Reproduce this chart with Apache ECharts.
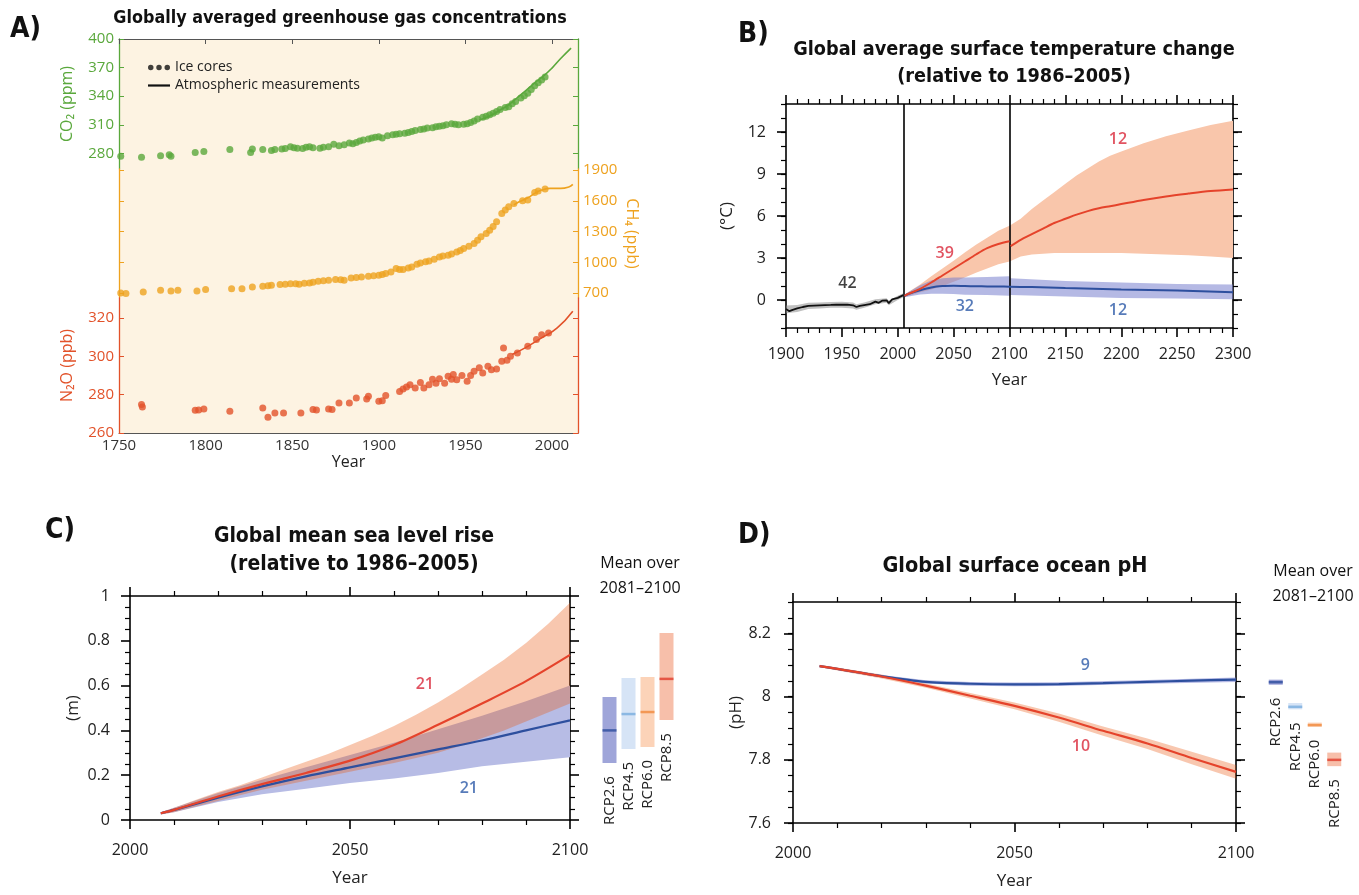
<!DOCTYPE html>
<html><head><meta charset="utf-8">
<script src="https://cdn.jsdelivr.net/npm/echarts@6/dist/echarts.min.js"></script>
<style>html,body{margin:0;padding:0;background:#fff}#c{width:1359px;height:895px}</style>
</head><body><div id="c"></div><script>
// ---------------- DATA ----------------
// Panel A: greenhouse gases [year, value]
const co2Ice = [[1751,277],[1763,276],[1774,277.5],[1779,278.5],[1780,277],[1794,281],[1799,282],[1814,284],[1826,281],[1827,284.5],[1833,284],[1838,283],[1840,284],[1844,284.5],[1846,285],[1849,287],[1851,286],[1853,285.5],[1856,285],[1858,286.5],[1860,287],[1862,286],[1866,285.5],[1868,286.5],[1871,287],[1874,289.5],[1877,288],[1880,289],[1883,291],[1885,290],[1887,291.5],[1889,293],[1891,294],[1894,295],[1896,296],[1898,297],[1900,297.5],[1902,296],[1905,298.5],[1908,299.5],[1910,300],[1912,300.5],[1915,301],[1917,302],[1919,303],[1921,304],[1924,305],[1926,305.5],[1928,306.5],[1931,307],[1933,308],[1935,308.5],[1937,309],[1939,310],[1942,311],[1944,310.5],[1946,310],[1949,310.5],[1951,311],[1953,312.5],[1955,314],[1957,316],[1960,318],[1962,319],[1964,320.5],[1966,322],[1968,324],[1970,326],[1973,328],[1975,329],[1977,332],[1979,334.5],[1982,338],[1984,340.5],[1986,343],[1988,347],[1990,351],[1992,354],[1994,357],[1996,360]];
const co2Atm = [[1958,315],[1965,320],[1970,325.5],[1975,331],[1980,338.5],[1985,346],[1990,354],[1995,361],[2000,369.5],[2005,379.5],[2011,390.5]];
const ch4Ice = [[1751,700],[1754,694],[1764,710],[1774,726],[1780,720],[1784,726],[1795,720],[1800,733],[1815,742],[1821,742],[1827,759],[1833,765],[1836,770],[1838,775],[1843,782],[1846,785],[1849,791],[1852,790],[1854,785],[1857,795],[1860,798],[1862,805],[1865,814],[1868,820],[1871,824],[1875,831],[1878,830],[1880,824],[1884,847],[1887,850],[1890,857],[1894,863],[1897,868],[1900,873],[1902,880],[1904,889],[1907,905],[1910,938],[1912,930],[1914,928],[1917,945],[1919,954],[1922,980],[1924,993],[1927,1005],[1929,1013],[1932,1030],[1935,1052],[1937,1060],[1940,1068],[1942,1080],[1945,1101],[1947,1115],[1949,1134],[1952,1155],[1955,1183],[1957,1215],[1959,1248],[1962,1280],[1964,1313],[1966,1350],[1968,1395],[1971,1476],[1973,1510],[1975,1541],[1978,1574],[1983,1600],[1986,1607],[1990,1680],[1992,1695],[1996,1715]];
const ch4Atm = [[1978,1560],[1981,1590],[1986,1629],[1990,1672],[1994,1704],[1999,1721],[2005,1721],[2010,1737],[2012,1760]];
const n2oIce = [[1763,274.8],[1763.5,273.6],[1794,271.8],[1796,272],[1799,272.5],[1814,271.3],[1833,273],[1836,268.2],[1840,270.4],[1845,270.4],[1855,270.4],[1862,272.2],[1864,272],[1871,272.5],[1873,272.3],[1877,275.7],[1883,275.7],[1887,278.3],[1893,277.7],[1894,279.1],[1900,276.5],[1902,276.8],[1904,279.5],[1912,281.7],[1914,283],[1916,284],[1918,285.2],[1921,283.5],[1924,286.4],[1926,283.5],[1929,285.2],[1931,288],[1933,286],[1935,288.3],[1938,286],[1940,289.6],[1942,288],[1943,290.5],[1945,287.8],[1948,290],[1951,287],[1953,290],[1955,292.2],[1958,294],[1960,291.3],[1963,294.8],[1965,293],[1968,293.4],[1971,297.4],[1972,304.3],[1974,298],[1976,300],[1980,301.7],[1986,305.2],[1991,308.7],[1994,311.3],[1998,312.2]];
const n2oAtm = [[1977,300.9],[1986,305.2],[1994,309.6],[2003,314.8],[2012,323.5]];
const yearTicksA = [1750,1800,1850,1900,1950,2000];
const co2Ticks = [280,310,340,370,400];
const ch4Ticks = [700,1000,1300,1600,1900];
const n2oTicks = [260,280,300,320];

// Panel B: temperature [year, value] and bands [year, low, high]
const histT = [[1900,-0.65],[1903,-0.8],[1906,-0.7],[1910,-0.6],[1915,-0.5],[1920,-0.42],[1925,-0.4],[1930,-0.38],[1935,-0.36],[1940,-0.35],[1945,-0.33],[1950,-0.34],[1955,-0.33],[1960,-0.38],[1963,-0.5],[1966,-0.42],[1970,-0.36],[1975,-0.3],[1980,-0.12],[1983,-0.2],[1986,-0.05],[1990,-0.02],[1992,-0.22],[1995,0.05],[2000,0.15],[2005,0.35]];
const histTBand = [[1900,-0.95,-0.4],[1910,-0.85,-0.35],[1920,-0.65,-0.2],[1930,-0.6,-0.18],[1940,-0.55,-0.15],[1950,-0.55,-0.13],[1960,-0.6,-0.18],[1963,-0.7,-0.3],[1970,-0.55,-0.18],[1980,-0.3,0.05],[1990,-0.2,0.12],[1992,-0.38,-0.06],[2000,0.0,0.3],[2005,0.2,0.48]];
const rcp85T21 = [[2006,0.3],[2010,0.45],[2020,0.8],[2030,1.25],[2040,1.75],[2050,2.25],[2060,2.75],[2070,3.25],[2080,3.7],[2090,4.0],[2100,4.2]];
const rcp85T23 = [[2101,3.85],[2110,4.3],[2120,4.7],[2130,5.1],[2140,5.5],[2150,5.8],[2160,6.1],[2170,6.35],[2180,6.55],[2190,6.7],[2200,6.85],[2220,7.15],[2240,7.4],[2260,7.6],[2280,7.78],[2300,7.9]];
const rcp85TBand = [[2006,0.2,0.4],[2020,0.55,1.1],[2030,0.75,1.7],[2040,1.0,2.25],[2050,1.3,2.8],[2060,1.6,3.4],[2070,1.95,3.95],[2080,2.25,4.45],[2090,2.55,4.95],[2100,2.75,5.3],[2110,3.1,5.8],[2120,3.25,6.5],[2130,3.3,7.1],[2140,3.35,7.7],[2150,3.35,8.3],[2160,3.35,8.9],[2170,3.35,9.4],[2180,3.35,9.9],[2190,3.35,10.3],[2200,3.35,10.6],[2220,3.3,11.2],[2240,3.25,11.7],[2260,3.2,12.1],[2280,3.1,12.5],[2300,3.0,12.8]];
const rcp26T = [[2006,0.3],[2010,0.45],[2020,0.7],[2030,0.9],[2040,1.0],[2050,1.02],[2060,1.0],[2070,0.98],[2080,0.97],[2090,0.96],[2100,0.95],[2120,0.92],[2150,0.85],[2200,0.75],[2250,0.68],[2300,0.55]];
const rcp26TBand = [[2006,0.2,0.4],[2020,0.4,1.05],[2030,0.45,1.4],[2040,0.45,1.55],[2050,0.42,1.6],[2060,0.38,1.6],[2080,0.35,1.65],[2100,0.3,1.7],[2101,0.35,1.55],[2150,0.25,1.35],[2200,0.15,1.25],[2250,0.1,1.15],[2300,0.05,1.1]];
const periodBreaks = [2005, 2100];
const tempTicks = [0,3,6,9,12];
const tempLabelsHist = [[1955,1.2,'42']];
const tempLabels85 = [[2042,3.36,'39'],[2197,11.5,'12']];
const tempLabels26 = [[2060,-0.43,'32'],[2197,-0.72,'12']];

// Panel C: sea level (m)
const slr85 = [[2007,0.03],[2010,0.045],[2020,0.105],[2030,0.16],[2040,0.21],[2050,0.265],[2060,0.335],[2070,0.425],[2080,0.52],[2090,0.62],[2100,0.737]];
const slr26 = [[2007,0.03],[2010,0.045],[2020,0.10],[2030,0.15],[2040,0.195],[2050,0.235],[2060,0.275],[2070,0.315],[2080,0.355],[2090,0.40],[2100,0.445]];
const slr85Band = [[2007,0.025,0.035],[2010,0.035,0.055],[2015,0.06,0.09],[2020,0.085,0.125],[2025,0.11,0.155],[2030,0.135,0.19],[2035,0.155,0.225],[2040,0.175,0.26],[2045,0.195,0.295],[2050,0.215,0.335],[2055,0.235,0.375],[2060,0.255,0.42],[2065,0.277,0.47],[2070,0.30,0.525],[2075,0.33,0.585],[2080,0.365,0.65],[2085,0.40,0.715],[2090,0.44,0.79],[2095,0.48,0.875],[2100,0.52,0.97]];
const slr26Band = [[2007,0.025,0.035],[2010,0.035,0.055],[2020,0.08,0.12],[2030,0.115,0.18],[2040,0.14,0.235],[2050,0.165,0.29],[2060,0.185,0.345],[2070,0.21,0.405],[2080,0.24,0.465],[2090,0.26,0.53],[2100,0.28,0.60]];
const slrLabels85 = [[2067,0.607,'21']];
const slrLabels26 = [[2077,0.14,'21']];
const rcpNames = ['RCP2.6','RCP4.5','RCP6.0','RCP8.5'];
const slrMeanLow = [0.254,0.317,0.326,0.446];
const slrMeanHigh = [0.549,0.634,0.638,0.835];
const slrMean = [0.40,0.473,0.482,0.63];

// Panel D: ocean pH
const ph85 = [[2006,8.097],[2010,8.088],[2020,8.064],[2030,8.035],[2040,8.003],[2050,7.971],[2060,7.934],[2070,7.892],[2080,7.852],[2090,7.806],[2100,7.762]];
const ph26 = [[2006,8.097],[2010,8.088],[2020,8.065],[2030,8.047],[2040,8.041],[2050,8.039],[2060,8.040],[2070,8.043],[2080,8.047],[2090,8.051],[2100,8.054]];
const ph85Band = [[2006,8.093,8.101],[2020,8.058,8.07],[2030,8.028,8.042],[2040,7.994,8.012],[2050,7.96,7.982],[2060,7.921,7.947],[2070,7.876,7.906],[2080,7.834,7.868],[2090,7.786,7.826],[2100,7.74,7.784]];
const ph26Band = [[2006,8.094,8.1],[2020,8.061,8.069],[2030,8.042,8.052],[2040,8.035,8.047],[2050,8.033,8.045],[2060,8.034,8.046],[2080,8.041,8.053],[2100,8.047,8.061]];
const phTicks = [7.6,7.8,8,8.2];
const phLabels85 = [[2065,7.843,'10']];
const phLabels26 = [[2066,8.10,'9']];
const phMeanLow = [8.038,7.96,7.905,7.78];
const phMeanHigh = [8.054,7.98,7.918,7.823];
const phMean = [8.046,7.968,7.91,7.80];

// ---------------- STYLE ----------------
const FONT = "'Open Sans','Noto Sans',sans-serif";
const TFONT = "'Liberation Sans Narrow','DejaVu Sans Condensed','Open Sans',sans-serif";
const GREEN = '#5aa83c', ORANGE = '#eea21f', RED_A = '#e2522a';
const RED = '#e5432b', BLUE = '#2d4f9e';
const BAR_FILL = ['#9fa5d9','#d6e4f6','#fcd3b8','#f7bfaa'];
const BAR_MEAN = ['#2c4c9c','#78acdf','#f08a3c','#e03c2c'];
const fmt = v => String(+(+v).toFixed(3));

const grids = [], xAxes = [], yAxes = [], series = [];
const addG = o => (grids.push(o), grids.length - 1);
const addX = o => (xAxes.push(o), xAxes.length - 1);
const addY = o => (yAxes.push(o), yAxes.length - 1);

// ---------- Panel A ----------
const gA0 = addG({left:119, top:39, width:459, height:394, show:true, backgroundColor:'#fdf3e2', borderWidth:0});
const gA1 = addG({left:119, top:39, width:459, height:130});
const gA2 = addG({left:119, top:169, width:459, height:129});
const gA3 = addG({left:119, top:298, width:459, height:135});
addX({type:'value', gridIndex:gA0, position:'bottom', min:1750, max:2015,
  axisLine:{onZero:false, lineStyle:{color:'#555', width:1}}, axisTick:{show:false},
  axisLabel:{customValues:yearTicksA, formatter:fmt, margin:5, fontSize:15, color:'#333', fontFamily:FONT},
  splitLine:{show:false}, name:'Year', nameLocation:'middle', nameGap:21,
  nameTextStyle:{fontSize:16, color:'#222', fontFamily:FONT}});
addX({type:'value', gridIndex:gA0, position:'top', min:1750, max:2015,
  axisLine:{onZero:false, lineStyle:{color:'#555', width:1}},
  axisTick:{show:true, inside:true, length:5, customValues:yearTicksA, lineStyle:{color:'#555'}},
  axisLabel:{show:false}, splitLine:{show:false}});
addY({type:'value', gridIndex:gA0, show:false, min:0, max:1});
const xA1 = addX({type:'value', gridIndex:gA1, show:false, min:1750, max:2015});
const xA2 = addX({type:'value', gridIndex:gA2, show:false, min:1750, max:2015});
const xA3 = addX({type:'value', gridIndex:gA3, show:false, min:1750, max:2015});
function gasY(grid, pos, min, max, vals, color, labels, name, rot, gap) {
  return {type:'value', gridIndex:grid, position:pos, min, max,
    axisLine:{show:true, onZero:false, lineStyle:{color, width:1.3}},
    axisTick:{show:true, inside:true, length:5, customValues:vals, lineStyle:{color}},
    axisLabel:{show:labels, customValues:vals, formatter:fmt, margin:5, fontSize:15, color, fontFamily:FONT},
    splitLine:{show:false}, name:name||'', nameLocation:'middle', nameGap:gap||44, nameRotate:rot,
    nameTextStyle:{color, fontSize:16, fontFamily:FONT}};
}
const yCO2 = addY(gasY(gA1,'left',263.6,400,co2Ticks,GREEN,true,'CO₂ (ppm)',90,44));
addY(gasY(gA1,'right',263.6,400,co2Ticks,GREEN,false));
addY(gasY(gA2,'left',651,1910,ch4Ticks,ORANGE,false));
const yCH4 = addY(gasY(gA2,'right',651,1910,ch4Ticks,ORANGE,true,'CH₄ (ppb)',-90,46));
const yN2O = addY(gasY(gA3,'left',260,330.4,n2oTicks,RED_A,true,'N₂O (ppb)',90,44));
addY(gasY(gA3,'right',260,330.4,n2oTicks,RED_A,false));

const dot = (data, color, xi, yi) => ({type:'scatter', xAxisIndex:xi, yAxisIndex:yi, data, symbolSize:7, itemStyle:{color}, silent:true, z:3});
const aline = (data, color, xi, yi) => ({type:'line', xAxisIndex:xi, yAxisIndex:yi, data, smooth:true, symbol:'none', lineStyle:{color, width:1.6}, silent:true, z:4});
series.push(dot(co2Ice,GREEN,xA1,yCO2), aline(co2Atm,GREEN,xA1,yCO2));
series.push(dot(ch4Ice,ORANGE,xA2,yCH4), aline(ch4Atm,ORANGE,xA2,yCH4));
series.push(dot(n2oIce,RED_A,xA3,yN2O), aline(n2oAtm,RED_A,xA3,yN2O));
series.push({type:'scatter', name:'Ice cores', xAxisIndex:xA1, yAxisIndex:yCO2, data:[], itemStyle:{color:'#111'}});
series.push({type:'line', name:'Atmospheric measurements', xAxisIndex:xA1, yAxisIndex:yCO2, data:[], itemStyle:{color:'#111'}, lineStyle:{color:'#111'}});

// ---------- NCL-style axes helpers ----------
const BLK = {color:'#000', width:1.6};
function nclX(grid, pos, min, max, interval, labels, opts) {
  opts = opts || {};
  return {type:'value', gridIndex:grid, position:pos, min, max, interval,
    axisLine:{onZero:false, lineStyle:BLK},
    axisTick:{show:true, inside:false, length:9, lineStyle:BLK},
    minorTick:{show:true, splitNumber:5, length:5, lineStyle:{color:'#000', width:1.2}},
    splitLine:{show:false}, minorSplitLine:{show:false},
    axisLabel:{show:labels, formatter:fmt, margin:opts.margin||18, fontSize:16, color:'#222', fontFamily:FONT},
    name:labels?'Year':'', nameLocation:'middle', nameGap:opts.nameGap||44,
    nameTextStyle:{fontSize:17, color:'#222', fontFamily:FONT}};
}
function nclYMajor(grid, pos, min, max, vals, labels, opts) {
  opts = opts || {};
  return {type:'value', gridIndex:grid, position:pos, min, max,
    axisLine:{onZero:false, lineStyle:BLK},
    axisTick:{show:true, inside:false, length:9, customValues:vals, lineStyle:BLK},
    axisLabel:{show:labels, customValues:vals, formatter:fmt, margin:opts.margin||20, fontSize:16, color:'#222', fontFamily:FONT},
    splitLine:{show:false},
    name:opts.name||'', nameLocation:'middle', nameRotate:90, nameGap:opts.nameGap||48,
    nameTextStyle:{fontSize:17, color:'#222', fontFamily:FONT}};
}
function nclYMinor(grid, pos, min, max, interval) {
  return {type:'value', gridIndex:grid, position:pos, min, max, interval,
    axisLine:{show:false, onZero:false},
    axisTick:{show:true, inside:false, length:5, lineStyle:{color:'#000', width:1.2}},
    axisLabel:{show:false}, splitLine:{show:false}};
}
// band drawn as one polygon through the axes' own coordinate conversion
function bandSeries(band, color, xi, yi, z) {
  return {type:'custom', xAxisIndex:xi, yAxisIndex:yi, data:band, silent:true, z,
    encode:{x:0, y:[1,2]},
    renderItem(params, api) {
      if (params.dataIndex !== 0) return null;
      const up = band.map(d => api.coord([d[0], d[2]]));
      const lo = band.map(d => api.coord([d[0], d[1]])).reverse();
      return {type:'polygon', shape:{points:up.concat(lo)}, style:{fill:color}};
    }};
}
const pline = (data, color, xi, yi, w, extra) => Object.assign({type:'line', xAxisIndex:xi, yAxisIndex:yi, data, symbol:'none', lineStyle:{color, width:w||2}, silent:true, z:5}, extra||{});
const labelSeries = (arr, color, xi, yi) => ({type:'scatter', xAxisIndex:xi, yAxisIndex:yi, symbolSize:0, silent:true, z:6,
  data:arr.map(d=>({value:[d[0],d[1]], name:d[2]})),
  label:{show:true, position:'inside', formatter:'{b}', color, fontSize:16, fontWeight:600, fontFamily:FONT}});

// ---------- Panel B ----------
const gB = addG({left:786, top:104, width:447, height:224});
const xB = addX(nclX(gB,'bottom',1900,2300,50,true,{margin:18, nameGap:44}));
addX(nclX(gB,'top',1900,2300,50,false));
const yB = addY(nclYMajor(gB,'left',-2,14,tempTicks,true,{name:'(°C)', nameGap:50, margin:20}));
addY(nclYMinor(gB,'left',-2,14,1));
addY(nclYMajor(gB,'right',-2,14,tempTicks,false));
addY(nclYMinor(gB,'right',-2,14,1));
series.push(bandSeries(histTBand,'rgba(140,140,140,0.55)',xB,yB,2));
series.push(bandSeries(rcp85TBand,'#f9c6ab',xB,yB,2));
series.push(bandSeries(rcp26TBand,'rgba(120,128,205,0.55)',xB,yB,3));
series.push(pline(histT,'#111',xB,yB,1.8,{markLine:{symbol:'none', silent:true, label:{show:false}, lineStyle:{color:'#000', width:1.6, type:'solid'}, data:periodBreaks.map(v=>({xAxis:v}))}}));
series.push(pline(rcp26T,BLUE,xB,yB,2,{smooth:0.3}));
series.push(pline(rcp85T21,RED,xB,yB,2,{smooth:0.3}));
series.push(pline(rcp85T23,RED,xB,yB,2,{smooth:0.3}));
series.push(labelSeries(tempLabelsHist,'#111',xB,yB), labelSeries(tempLabels85,'#d9283a',xB,yB), labelSeries(tempLabels26,'#2d5aa8',xB,yB));

// ---------- Panel C ----------
const gC = addG({left:130, top:596, width:440, height:224});
const xC = addX(nclX(gC,'bottom',2000,2100,50,true,{margin:22, nameGap:50}));
addX(nclX(gC,'top',2000,2100,50,false));
const cY = (pos, labels) => ({type:'value', gridIndex:gC, position:pos, min:0, max:1, interval:0.2,
  axisLine:{onZero:false, lineStyle:BLK}, axisTick:{show:true, length:9, lineStyle:BLK},
  minorTick:{show:true, splitNumber:4, length:5, lineStyle:{color:'#000', width:1.2}},
  axisLabel:{show:labels, formatter:fmt, margin:20, fontSize:16, color:'#222', fontFamily:FONT},
  splitLine:{show:false}, name:labels?'(m)':'', nameLocation:'middle', nameRotate:90, nameGap:48,
  nameTextStyle:{fontSize:17, color:'#222', fontFamily:FONT}});
const yC = addY(cY('left',true));
addY(cY('right',false));
series.push(bandSeries(slr26Band,'#b7bce5',xC,yC,2));
series.push(bandSeries(slr85Band,'rgba(235,86,12,0.33)',xC,yC,3));
series.push(pline(slr26,BLUE,xC,yC,2.2,{smooth:0.3}), pline(slr85,RED,xC,yC,2.2,{smooth:0.3}));
series.push(labelSeries(slrLabels85,'#d9283a',xC,yC), labelSeries(slrLabels26,'#2d5aa8',xC,yC));

// C bars
const gCb = addG({left:600, top:596, width:76, height:224});
const xCb = addX({type:'category', gridIndex:gCb, show:false, data:rcpNames});
const yCb = addY({type:'value', gridIndex:gCb, show:false, min:0, max:1});
function meanBars(xi, yi, low, high, mean) {
  return [
    {type:'bar', xAxisIndex:xi, yAxisIndex:yi, stack:'m'+xi, barWidth:14, silent:true,
      data:low, itemStyle:{color:'rgba(0,0,0,0)'},
      label:{show:true, position:'insideTop', distance:13, rotate:90, align:'right', verticalAlign:'middle',
        formatter:'{b}', fontSize:15, color:'#222', fontFamily:FONT}},
    {type:'bar', xAxisIndex:xi, yAxisIndex:yi, stack:'m'+xi, barWidth:14, silent:true,
      data:high.map((h,i)=>({value:h-low[i], itemStyle:{color:BAR_FILL[i]}}))},
    {type:'scatter', xAxisIndex:xi, yAxisIndex:yi, symbol:'rect', symbolSize:[14,2.5], silent:true, z:4,
      data:mean.map((m,i)=>({value:m, itemStyle:{color:BAR_MEAN[i]}}))}
  ];
}
series.push(...meanBars(xCb,yCb,slrMeanLow,slrMeanHigh,slrMean));

// ---------- Panel D ----------
const gD = addG({left:793, top:602, width:443, height:221});
const xD = addX(nclX(gD,'bottom',2000,2100,50,true,{margin:22, nameGap:50}));
addX(nclX(gD,'top',2000,2100,50,false));
const yD = addY(nclYMajor(gD,'left',7.6,8.3,phTicks,true,{name:'(pH)', nameGap:47, margin:22}));
addY(nclYMinor(gD,'left',7.6,8.3,0.05));
addY(nclYMajor(gD,'right',7.6,8.3,phTicks,false));
addY(nclYMinor(gD,'right',7.6,8.3,0.05));
series.push(bandSeries(ph85Band,'rgba(235,86,12,0.33)',xD,yD,2));
series.push(bandSeries(ph26Band,'rgba(120,128,205,0.55)',xD,yD,2));
series.push(pline(ph26,BLUE,xD,yD,2.2,{smooth:0.3}), pline(ph85,RED,xD,yD,2.2,{smooth:0.3}));
series.push(labelSeries(phLabels85,'#d9283a',xD,yD), labelSeries(phLabels26,'#2d5aa8',xD,yD));
const gDb = addG({left:1266, top:602, width:78, height:221});
const xDb = addX({type:'category', gridIndex:gDb, show:false, data:rcpNames});
const yDb = addY({type:'value', gridIndex:gDb, show:false, min:7.6, max:8.3});
series.push(...meanBars(xDb,yDb,phMeanLow,phMeanHigh,phMean));

// ---------- Texts ----------
const T = (text, left, top, size, bold, lh, extra) => Object.assign({text, left, top, padding:0,
  textStyle:{fontSize:size, fontWeight:bold?'bold':'normal', color:'#111', fontFamily:bold?TFONT:FONT, lineHeight:lh}}, extra||{});
const titles = [
  T('A)', 10, 14, 28, true, 32),
  T('Globally averaged greenhouse gas concentrations', 340, 7, 17.8, true, 22, {textAlign:'center'}),
  T('B)', 738, 19, 28, true, 32),
  T('Global average surface temperature change\n(relative to 1986–2005)', 1014, 36, 19.7, true, 27, {textAlign:'center'}),
  T('C)', 45, 515, 28, true, 32),
  T('Global mean sea level rise\n(relative to 1986–2005)', 354, 523, 21, true, 28, {textAlign:'center'}),
  T('D)', 738, 520, 28, true, 32),
  T('Global surface ocean pH', 1015, 553, 21.5, true, 26, {textAlign:'center'}),
  T('Mean over\n2081–2100', 640, 551, 16, false, 25, {textAlign:'center'}),
  T('Mean over\n2081–2100', 1313, 559, 16, false, 25, {textAlign:'center'})
];

const chart = echarts.init(document.getElementById('c'), null, {renderer:'canvas'});
chart.setOption({
  animation:false, backgroundColor:'#fff',
  title:titles, grid:grids, xAxis:xAxes, yAxis:yAxes, series,
  legend:{left:143, top:55, orient:'vertical', itemGap:3, selectedMode:false, itemWidth:22, itemHeight:6,
    textStyle:{fontSize:14, color:'#222', fontFamily:FONT, lineHeight:15},
    data:[{name:'Ice cores', icon:'path://M0,2.5A2.5,2.5 0 1,1 5,2.5A2.5,2.5 0 1,1 0,2.5ZM7.5,2.5A2.5,2.5 0 1,1 12.5,2.5A2.5,2.5 0 1,1 7.5,2.5ZM15,2.5A2.5,2.5 0 1,1 20,2.5A2.5,2.5 0 1,1 15,2.5Z'},
          {name:'Atmospheric measurements', icon:'path://M0,0H20V2H0Z'}]}
});
</script></body></html>
